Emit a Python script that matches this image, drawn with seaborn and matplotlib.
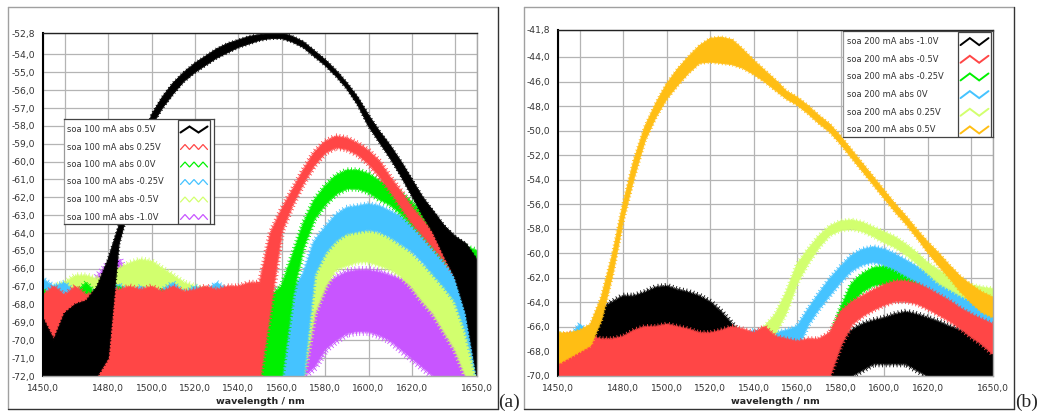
import matplotlib
import numpy as np
import pandas as pd

matplotlib.use("Agg")
import matplotlib.pyplot as plt
import seaborn as sns
from matplotlib import patheffects as pe
from matplotlib.lines import Line2D
from matplotlib.patches import Rectangle
from matplotlib.ticker import FuncFormatter


OUTPUT_FILE = "out.png"
FIG_W, FIG_H = 1043, 417

# wavelength grid (nm), one reading every 5 nm
WAVELENGTH = [1450, 1455, 1460, 1465, 1470, 1475, 1480, 1485, 1490, 1495,
              1500, 1505, 1510, 1515, 1520, 1525, 1530, 1535, 1540, 1545,
              1550, 1555, 1560, 1565, 1570, 1575, 1580, 1585, 1590, 1595,
              1600, 1605, 1610, 1615, 1620, 1625, 1630, 1635, 1640, 1645, 1650]

X_TICKS = [1450, 1460, 1480, 1500, 1520, 1540, 1560, 1580, 1600, 1620, 1640, 1650]
X_TICK_LABELS = ["1450,0", "", "1480,0", "1500,0", "1520,0", "1540,0", "1560,0",
                 "1580,0", "1600,0", "1620,0", "", "1650,0"]
A_Y_TICKS = [-52.8, -54.0, -55.0, -56.0, -57.0, -58.0, -59.0, -60.0, -61.0, -62.0,
             -63.0, -64.0, -65.0, -66.0, -67.0, -68.0, -69.0, -70.0, -71.0, -72.0]
B_Y_TICKS = [-41.8, -44.0, -46.0, -48.0, -50.0, -52.0, -54.0, -56.0, -58.0, -60.0,
             -62.0, -64.0, -66.0, -68.0, -70.0]

# panel (a): soa 100 mA, noise band (upper / lower envelope) in dBm
A_LABELS = ["soa 100 mA abs 0.5V", "soa 100 mA abs 0.25V", "soa 100 mA abs 0.0V",
            "soa 100 mA abs -0.25V", "soa 100 mA abs -0.5V", "soa 100 mA abs -1.0V"]

A_BLACK_HI = [-68.8, -70.0, -68.5, -68.0, -67.8, -67.0, -65.5, -63.6, -61.6, -59.6,
              -57.4, -56.4, -55.6, -55.0, -54.5, -54.1, -53.7, -53.4, -53.2, -53.0,
              -52.9, -52.8, -52.8, -53.0, -53.3, -53.8, -54.3, -54.9, -55.6, -56.4,
              -57.4, -58.3, -59.1, -60.0, -61.0, -62.0, -62.8, -63.6, -64.2, -64.6, -65.5]
A_BLACK_LO = [-72.0, -72.0, -72.0, -72.0, -72.0, -72.0, -71.0, -64.6, -62.4, -60.4,
              -58.0, -57.0, -56.2, -55.5, -55.0, -54.6, -54.2, -53.9, -53.6, -53.4,
              -53.2, -53.1, -53.1, -53.3, -53.6, -54.1, -54.6, -55.2, -55.9, -56.8,
              -58.0, -58.9, -59.8, -60.8, -61.9, -63.0, -64.0, -65.3, -66.5, -68.5, -72.0]

A_RED_HI = [-67.5, -67.0, -67.5, -67.0, -67.5, -67.3, -67.0, -67.2, -67.0, -67.2,
            -67.0, -67.3, -67.0, -67.3, -67.2, -67.0, -67.2, -67.0, -67.0, -66.8,
            -66.8, -64.0, -62.7, -61.6, -60.5, -59.5, -58.9, -58.6, -58.7, -59.0,
            -59.4, -60.0, -60.9, -61.7, -62.6, -63.3, -64.0, -64.5, -65.0, -65.5, -66.0]
A_RED_LO = [-72.0, -72.0, -72.0, -72.0, -72.0, -72.0, -72.0, -72.0, -72.0, -72.0,
            -72.0, -72.0, -72.0, -72.0, -72.0, -72.0, -72.0, -72.0, -72.0, -72.0,
            -72.0, -68.0, -63.9, -62.4, -61.2, -60.2, -59.5, -59.2, -59.3, -59.6,
            -60.1, -60.8, -61.6, -62.5, -63.4, -64.1, -64.8, -65.5, -66.3, -67.5, -69.0]

A_GREEN_HI = [-67.2, -67.6, -67.8, -67.4, -66.8, -67.6, -67.8, -67.0, -67.6, -67.5,
              -67.8, -67.2, -67.6, -67.8, -67.4, -67.6, -67.8, -67.2, -67.5, -67.8,
              -67.6, -67.5, -67.0, -65.3, -63.5, -62.2, -61.4, -60.8, -60.5, -60.5,
              -60.7, -61.1, -61.4, -61.8, -62.3, -62.9, -63.4, -64.0, -64.4, -64.8, -65.0]
A_GREEN_LO = [-72.0, -72.0, -72.0, -72.0, -72.0, -72.0, -72.0, -72.0, -72.0, -72.0,
              -72.0, -72.0, -72.0, -72.0, -72.0, -72.0, -72.0, -72.0, -72.0, -72.0,
              -72.0, -72.0, -72.0, -67.5, -64.8, -63.2, -62.4, -61.8, -61.5, -61.5,
              -61.7, -62.1, -62.4, -62.9, -63.5, -64.1, -64.8, -65.5, -66.2, -67.0, -68.5]

A_BLUE_HI = [-66.6, -67.0, -66.8, -67.4, -67.0, -67.5, -67.2, -66.9, -67.4, -67.0,
             -67.5, -67.2, -66.8, -67.4, -67.0, -67.3, -66.8, -67.2, -67.4, -67.0,
             -67.3, -67.5, -67.5, -67.2, -66.3, -64.5, -63.7, -63.0, -62.6, -62.5,
             -62.4, -62.5, -62.8, -63.1, -63.6, -64.1, -64.7, -65.2, -65.8, -66.3, -66.8]
A_BLUE_LO = [-72.0, -72.0, -72.0, -72.0, -72.0, -72.0, -72.0, -72.0, -72.0, -72.0,
             -72.0, -72.0, -72.0, -72.0, -72.0, -72.0, -72.0, -72.0, -72.0, -72.0,
             -72.0, -72.0, -72.0, -72.0, -72.0, -66.3, -65.1, -64.4, -64.0, -63.9,
             -63.8, -63.9, -64.2, -64.6, -65.0, -65.6, -66.3, -67.0, -67.8, -69.5, -72.0]

A_YELLOW_HI = [-67.2, -67.0, -66.8, -66.4, -66.4, -66.6, -66.3, -66.0, -65.7, -65.5,
               -65.6, -66.0, -66.4, -66.8, -67.0, -67.2, -67.2, -67.4, -67.4, -67.6,
               -67.6, -67.8, -68.0, -68.0, -67.5, -66.0, -65.2, -64.4, -64.0, -63.9,
               -63.9, -64.0, -64.3, -64.7, -65.2, -65.8, -66.3, -66.8, -67.5, -68.0, -68.0]
A_YELLOW_LO = [-72.0, -72.0, -72.0, -72.0, -72.0, -72.0, -72.0, -72.0, -72.0, -72.0,
               -72.0, -72.0, -72.0, -72.0, -72.0, -72.0, -72.0, -72.0, -72.0, -72.0,
               -72.0, -72.0, -72.0, -72.0, -72.0, -68.5, -67.0, -66.0, -65.8, -65.6,
               -65.6, -65.8, -66.0, -66.4, -67.0, -67.8, -68.5, -69.5, -70.5, -72.0, -72.0]

A_VIOLET_HI = [-67.8, -67.5, -67.8, -67.0, -67.5, -66.5, -65.8, -65.5, -67.0, -67.5,
               -66.2, -67.8, -67.5, -67.8, -68.0, -67.8, -68.0, -67.8, -68.0, -68.5,
               -69.0, -69.5, -70.5, -69.5, -68.5, -67.5, -66.9, -66.5, -66.2, -66.1,
               -66.1, -66.2, -66.4, -66.6, -66.9, -67.3, -67.8, -68.8, -70.2, -72.0, -72.0]
A_VIOLET_LO = [-72.0, -72.0, -72.0, -72.0, -72.0, -72.0, -72.0, -72.0, -72.0, -72.0,
               -72.0, -72.0, -72.0, -72.0, -72.0, -72.0, -72.0, -72.0, -72.0, -72.0,
               -72.0, -72.0, -72.0, -72.0, -72.0, -71.5, -70.5, -70.0, -69.6, -69.5,
               -69.5, -69.7, -70.0, -70.5, -71.0, -71.5, -72.0, -72.0, -72.0, -72.0, -72.0]

# panel (b): soa 200 mA
B_LABELS = ["soa 200 mA abs -1.0V", "soa 200 mA abs -0.5V", "soa 200 mA abs -0.25V",
            "soa 200 mA abs 0V", "soa 200 mA abs 0.25V", "soa 200 mA abs 0.5V"]

B_BLACK_HI = [-68.0, -67.5, -67.5, -66.5, -64.5, -64.0, -63.5, -63.5, -63.2, -62.8,
              -62.7, -63.0, -63.2, -63.5, -64.0, -64.8, -65.8, -66.8, -67.5, -68.0,
              -68.5, -68.5, -68.5, -68.3, -68.0, -67.5, -67.0, -66.3, -65.8, -65.5,
              -65.3, -65.0, -64.8, -65.0, -65.3, -65.6, -66.0, -66.3, -66.5, -66.8, -67.0]
B_BLACK_LO = [-70.0, -70.0, -70.0, -70.0, -70.0, -70.0, -70.0, -70.0, -70.0, -70.0,
              -70.0, -70.0, -70.0, -70.0, -70.0, -70.0, -70.0, -70.0, -70.0, -70.0,
              -70.0, -70.0, -70.0, -70.0, -70.0, -70.0, -70.0, -70.0, -69.5, -69.0,
              -69.0, -69.0, -69.0, -69.5, -70.0, -70.0, -70.0, -70.0, -70.0, -70.0, -70.0]

B_RED_HI = [-67.0, -66.5, -67.0, -66.8, -67.0, -67.0, -66.8, -66.3, -66.0, -66.0,
            -65.8, -66.0, -66.2, -66.5, -66.5, -66.3, -66.0, -66.2, -66.5, -66.0,
            -66.8, -67.0, -67.2, -67.0, -67.0, -66.5, -64.8, -64.0, -63.5, -63.0,
            -62.6, -62.3, -62.3, -62.5, -62.9, -63.4, -63.9, -64.5, -65.0, -65.4, -65.8]
B_RED_LO = [-70.0, -70.0, -70.0, -70.0, -70.0, -70.0, -70.0, -70.0, -70.0, -70.0,
            -70.0, -70.0, -70.0, -70.0, -70.0, -70.0, -70.0, -70.0, -70.0, -70.0,
            -70.0, -70.0, -70.0, -70.0, -70.0, -70.0, -67.5, -65.8, -65.1, -64.6,
            -64.2, -63.9, -63.9, -64.1, -64.5, -65.0, -65.5, -66.1, -66.8, -67.4, -68.2]

B_GREEN_HI = [-67.2, -67.8, -67.5, -67.0, -67.8, -67.5, -67.8, -67.6, -67.2, -67.8,
              -67.5, -67.8, -67.4, -67.8, -67.5, -67.0, -67.6, -67.8, -67.2, -67.5,
              -67.8, -67.5, -67.8, -67.5, -67.5, -67.0, -64.5, -62.5, -61.7, -61.2,
              -61.1, -61.2, -61.6, -62.1, -62.6, -63.1, -63.5, -63.8, -64.2, -64.6, -65.0]
B_GREEN_LO = [-70.0, -70.0, -70.0, -70.0, -70.0, -70.0, -70.0, -70.0, -70.0, -70.0,
              -70.0, -70.0, -70.0, -70.0, -70.0, -70.0, -70.0, -70.0, -70.0, -70.0,
              -70.0, -70.0, -70.0, -70.0, -70.0, -70.0, -67.5, -64.0, -63.1, -62.6,
              -62.5, -62.7, -63.0, -63.5, -64.0, -64.5, -64.9, -65.3, -65.8, -66.3, -67.0]

B_BLUE_HI = [-66.5, -67.0, -65.8, -66.8, -67.2, -67.0, -67.5, -67.2, -67.0, -67.4,
             -67.0, -67.2, -67.5, -67.0, -67.2, -66.8, -66.5, -66.8, -66.3, -66.5,
             -66.5, -66.3, -66.0, -64.6, -63.3, -62.1, -61.1, -60.2, -59.7, -59.5,
             -59.7, -60.1, -60.6, -61.1, -61.7, -62.2, -62.7, -63.3, -63.6, -64.0, -64.2]
B_BLUE_LO = [-70.0, -70.0, -70.0, -70.0, -70.0, -70.0, -70.0, -70.0, -70.0, -70.0,
             -70.0, -70.0, -70.0, -70.0, -70.0, -70.0, -70.0, -70.0, -70.0, -70.0,
             -70.0, -70.0, -67.8, -65.8, -64.5, -63.4, -62.3, -61.4, -60.9, -60.7,
             -60.9, -61.3, -61.8, -62.3, -62.9, -63.4, -63.9, -64.5, -65.0, -65.4, -65.8]

B_YELLOW_HI = [-66.5, -66.8, -66.5, -66.0, -65.8, -65.5, -66.0, -66.5, -66.2, -66.0,
               -65.8, -66.0, -66.2, -66.5, -66.0, -65.5, -66.0, -66.5, -67.0, -66.0,
               -65.0, -63.2, -60.9, -59.7, -58.6, -57.8, -57.4, -57.3, -57.5, -57.9,
               -58.3, -58.7, -59.3, -60.0, -60.8, -61.4, -61.9, -62.3, -62.6, -62.8, -62.9]
B_YELLOW_LO = [-69.0, -69.0, -69.0, -69.0, -69.0, -69.0, -69.0, -69.0, -69.0, -69.0,
               -69.0, -69.0, -69.0, -69.0, -69.0, -69.0, -69.0, -69.0, -69.0, -67.5,
               -66.5, -64.8, -62.4, -60.8, -59.5, -58.5, -58.1, -58.0, -58.2, -58.6,
               -59.1, -59.5, -60.1, -60.8, -61.6, -62.4, -62.9, -63.4, -63.8, -64.1, -64.4]

B_ORANGE_HI = [-66.5, -66.5, -66.3, -65.8, -63.6, -60.2, -56.0, -52.4, -49.7, -47.8,
               -46.2, -45.0, -44.0, -43.1, -42.5, -42.4, -42.6, -43.4, -44.3, -45.1,
               -45.9, -46.8, -47.3, -48.0, -48.8, -49.5, -50.5, -51.6, -52.7, -53.8,
               -54.9, -56.0, -57.0, -58.1, -59.1, -60.0, -61.0, -61.9, -62.6, -63.2, -63.6]
B_ORANGE_LO = [-69.0, -68.5, -68.0, -67.5, -65.4, -61.8, -57.3, -53.8, -50.8, -48.9,
               -47.4, -46.3, -45.3, -44.5, -44.4, -44.5, -44.6, -44.9, -45.4, -46.0,
               -46.7, -47.4, -47.9, -48.6, -49.4, -50.1, -51.1, -52.2, -53.3, -54.4,
               -55.5, -56.6, -57.6, -58.7, -59.9, -61.0, -62.0, -63.1, -64.0, -64.8, -65.2]

COLORS = {
    "black": "#000000",
    "red": "#FF4646",
    "green": "#00F000",
    "blue": "#45C3FF",
    "yellow": "#D2FF6E",
    "violet": "#C855FF",
    "orange": "#FFBE14",
}


def setup_style() -> None:
    sns.set_theme(style="whitegrid")
    plt.rcParams["font.family"] = ["DejaVu Sans"]
    plt.rcParams["axes.facecolor"] = "white"
    plt.rcParams["figure.facecolor"] = "white"


def comma_fmt(value, _pos=None) -> str:
    return f"{value:.1f}".replace(".", ",")


def draw_band(ax, lo, hi, color, fuzz=1.0) -> None:
    df = pd.DataFrame({"wavelength": WAVELENGTH + WAVELENGTH, "level": lo + hi})
    sns.lineplot(
        data=df, x="wavelength", y="level", estimator="mean", errorbar=("pi", 100),
        color=color, linewidth=0, legend=False, ax=ax,
        err_kws={"alpha": 1.0, "linewidth": 0.6, "edgecolor": color},
    )
    # slightly ragged edge so the band reads like a noisy trace
    band = ax.collections[-1]
    band.set_path_effects([
        pe.TickedStroke(spacing=1.1, angle=-90, length=1.0 * fuzz, linewidth=0.6),
        pe.TickedStroke(spacing=2.6, angle=-90, length=0.9 * fuzz, linewidth=0.6),
        pe.Normal(),
    ])


def style_axes(ax, y_ticks, y_min, y_max) -> None:
    ax.set_xlim(1450, 1650)
    ax.set_ylim(y_min, y_max)
    ax.set_xticks(X_TICKS)
    ax.set_xticklabels(X_TICK_LABELS)
    ax.set_yticks(y_ticks)
    ax.yaxis.set_major_formatter(FuncFormatter(comma_fmt))
    ax.tick_params(axis="both", which="major", labelsize=6.6, length=4, width=1,
                   direction="out", color="black", pad=1.5, labelcolor="#333333")
    ax.tick_params(axis="x", pad=2)
    ax.set_axisbelow(True)
    ax.grid(True, color="#b4b4b4", linewidth=0.9)
    ax.set_ylabel("")
    ax.set_xlabel("wavelength / nm", fontsize=6.8, fontweight="bold", labelpad=2.5)
    ax.spines["left"].set_color("black")
    ax.spines["left"].set_linewidth(1.5)
    ax.spines["top"].set_color("#222222")
    ax.spines["top"].set_linewidth(1.0)
    for side in ("right", "bottom"):
        ax.spines[side].set_color("#a8a8a8")
        ax.spines[side].set_linewidth(1.0)


def draw_legend(ax, ax_px, box_px, labels, colors, widths, swatch_px, text_x, zig_points, amps) -> None:
    """Instrument-style legend: text on the left, zigzag swatch in a framed column."""
    ax_w, ax_h = ax_px
    x0, y0, w, h = box_px
    leg = ax.inset_axes([x0 / ax_w, 1 - (y0 + h) / ax_h, w / ax_w, h / ax_h])
    leg.set_xlim(0, w)
    leg.set_ylim(h, 0)
    leg.set_xticks([])
    leg.set_yticks([])
    leg.grid(False)
    leg.set_facecolor("white")
    leg.set_zorder(10)
    for side, col in (("top", "#444444"), ("right", "#444444"), ("bottom", "#444444"), ("left", "#9a9a9a")):
        leg.spines[side].set_color(col)
        leg.spines[side].set_linewidth(0.9)

    sx0, sx1 = swatch_px
    leg.add_patch(Rectangle((sx0, 0.5), sx1 - sx0, h - 1, fill=False, edgecolor="#444444", linewidth=0.9))
    row_h = h / len(labels)
    for i, (label, color, lw, n, amp) in enumerate(zip(labels, colors, widths, zig_points, amps)):
        cy = row_h * (i + 0.6)
        leg.text(text_x, cy, label, fontsize=6.0, color="#333333", va="center", ha="left")
        xs = np.linspace(sx0 + 2.5, sx1 - 2.5, n)
        ys = cy + np.resize([amp / 2, -amp / 2], n)
        leg.plot(xs, ys, color=color, linewidth=lw, solid_joinstyle="miter")


def add_frame(fig, x0, y0, x1, y1) -> None:
    fx0, fx1 = x0 / FIG_W, x1 / FIG_W
    fy0, fy1 = 1 - y1 / FIG_H, 1 - y0 / FIG_H
    light, dark = "#a0a0a0", "#333333"
    fig.add_artist(Line2D([fx0, fx1], [fy1, fy1], transform=fig.transFigure, color=light, lw=1))
    fig.add_artist(Line2D([fx0, fx0], [fy0, fy1], transform=fig.transFigure, color=light, lw=1))
    fig.add_artist(Line2D([fx1, fx1], [fy0, fy1], transform=fig.transFigure, color=dark, lw=1))
    fig.add_artist(Line2D([fx0, fx1], [fy0, fy0], transform=fig.transFigure, color=dark, lw=1))


def main() -> None:
    setup_style()
    fig = plt.figure(figsize=(FIG_W / 100, FIG_H / 100), dpi=100)

    add_frame(fig, 8, 7, 498, 409)
    add_frame(fig, 524, 7, 1014, 409)

    ax_a = fig.add_axes([43 / FIG_W, 1 - 376 / FIG_H, 434 / FIG_W, 343 / FIG_H])
    ax_b = fig.add_axes([558 / FIG_W, 1 - 376 / FIG_H, 435 / FIG_W, 346 / FIG_H])

    # panel (a): drawn from -1.0V up to 0.5V so the strongest trace sits on top
    for lo, hi, color, fuzz in [
        (A_VIOLET_LO, A_VIOLET_HI, COLORS["violet"], 1.4),
        (A_YELLOW_LO, A_YELLOW_HI, COLORS["yellow"], 1.1),
        (A_BLUE_LO, A_BLUE_HI, COLORS["blue"], 1.0),
        (A_GREEN_LO, A_GREEN_HI, COLORS["green"], 1.0),
        (A_RED_LO, A_RED_HI, COLORS["red"], 1.0),
        (A_BLACK_LO, A_BLACK_HI, COLORS["black"], 0.5),
    ]:
        draw_band(ax_a, lo, hi, color, fuzz)
    style_axes(ax_a, A_Y_TICKS, -72.0, -52.8)
    draw_legend(
        ax_a, (434, 343), (21, 86, 150, 105), A_LABELS,
        [COLORS["black"], COLORS["red"], COLORS["green"], COLORS["blue"], COLORS["yellow"], COLORS["violet"]],
        [1.5, 0.9, 0.9, 0.9, 0.9, 0.9],
        swatch_px=(114, 146), text_x=3, zig_points=[4, 7, 7, 7, 7, 7], amps=[6, 5, 5, 5, 5, 5],
    )

    # panel (b)
    for lo, hi, color, fuzz in [
        (B_GREEN_LO, B_GREEN_HI, COLORS["green"], 0.9),
        (B_BLUE_LO, B_BLUE_HI, COLORS["blue"], 0.9),
        (B_YELLOW_LO, B_YELLOW_HI, COLORS["yellow"], 0.8),
        (B_BLACK_LO, B_BLACK_HI, COLORS["black"], 1.1),
        (B_RED_LO, B_RED_HI, COLORS["red"], 0.9),
        (B_ORANGE_LO, B_ORANGE_HI, COLORS["orange"], 0.6),
    ]:
        draw_band(ax_b, lo, hi, color, fuzz)
    style_axes(ax_b, B_Y_TICKS, -70.0, -41.8)
    draw_legend(
        ax_b, (435, 346), (285, 1, 150, 106), B_LABELS,
        [COLORS["black"], COLORS["red"], COLORS["green"], COLORS["blue"], COLORS["yellow"], COLORS["orange"]],
        [1.4, 1.4, 1.4, 1.4, 1.4, 1.4],
        swatch_px=(115, 148), text_x=4, zig_points=[4] * 6, amps=[7] * 6,
    )

    fig.text(498 / FIG_W, 1 - 407 / FIG_H, "(a)", family=["Liberation Serif", "DejaVu Serif"],
             fontsize=14, va="baseline", ha="left")
    fig.text(1015 / FIG_W, 1 - 407 / FIG_H, "(b)", family=["Liberation Serif", "DejaVu Serif"],
             fontsize=14, va="baseline", ha="left")

    fig.savefig(OUTPUT_FILE, dpi=100)
    plt.close(fig)


if __name__ == "__main__":
    main()
